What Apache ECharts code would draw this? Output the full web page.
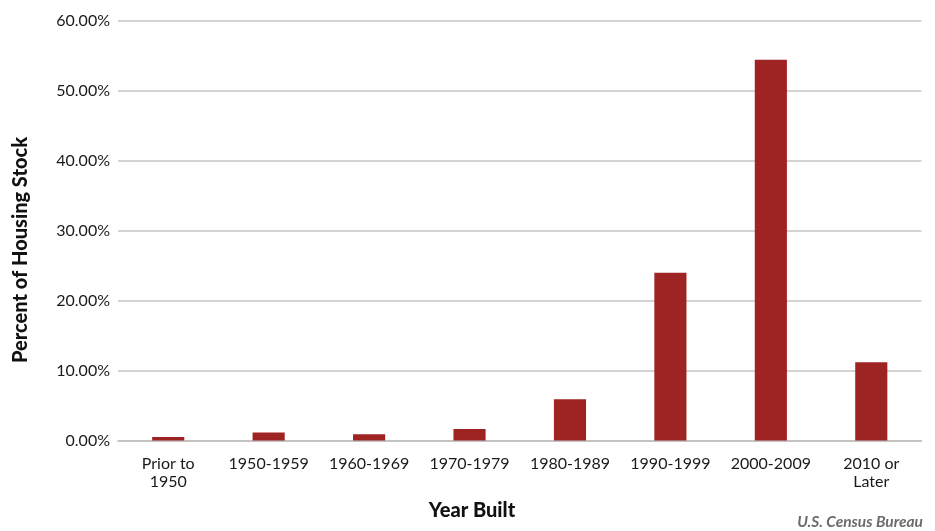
<!DOCTYPE html>
<html>
<head>
<meta charset="utf-8">
<script src="https://cdn.jsdelivr.net/npm/echarts@6/dist/echarts.min.js"></script>
<style>
  html, body { margin: 0; padding: 0; background: #fff; }
  #chart { width: 935px; height: 531px; }
</style>
</head>
<body>
<div id="chart"></div>
<script>
// Share of housing stock by decade of construction
const yearBuilt = ['Prior to\n1950', '1950-1959', '1960-1969', '1970-1979', '1980-1989', '1990-1999', '2000-2009', '2010 or\nLater'];
const sharePct = [0.5, 1.13, 0.89, 1.65, 5.89, 23.97, 54.4, 11.17];
const yTicks = { min: 0, max: 60, step: 10 };

const FONT = 'Lato, "Noto Sans", sans-serif';
const chart = echarts.init(document.getElementById('chart'), null, { renderer: 'canvas' });

chart.setOption({
  animation: false,
  backgroundColor: '#ffffff',
  grid: { left: 118, right: 13.5, top: 20.5, bottom: 90.5, containLabel: false },
  xAxis: {
    type: 'category',
    data: yearBuilt,
    axisLine: { show: true, lineStyle: { color: '#bdbdbd', width: 1.5 } },
    axisTick: { show: false },
    axisLabel: { color: '#1a1a1a', fontFamily: FONT, fontSize: 16, lineHeight: 18, margin: 14, interval: 0 }
  },
  yAxis: {
    type: 'value',
    min: yTicks.min,
    max: yTicks.max,
    interval: yTicks.step,
    axisLine: { show: false },
    axisTick: { show: false },
    splitLine: { lineStyle: { color: '#c6c6c6', width: 1.5 } },
    axisLabel: {
      color: '#1a1a1a', fontFamily: FONT, fontSize: 16, margin: 8,
      formatter: v => v.toFixed(2) + '%'
    }
  },
  series: [{
    type: 'bar',
    data: sharePct,
    barWidth: '32%',
    itemStyle: { color: '#9e2423' }
  }],
  graphic: [
    {
      type: 'text',
      x: 21, y: 250, rotation: Math.PI / 2,
      style: {
        text: 'Percent of Housing Stock', fill: '#111', fontFamily: FONT,
        fontWeight: 900, fontSize: 20, align: 'center', verticalAlign: 'middle'
      }
    },
    {
      type: 'text',
      x: 472, y: 511,
      style: {
        text: 'Year Built', fill: '#111', fontFamily: FONT,
        fontWeight: 900, fontSize: 20, align: 'center', verticalAlign: 'middle'
      }
    },
    {
      type: 'text',
      x: 923, y: 522,
      style: {
        text: 'U.S. Census Bureau', fill: '#6b6b6b', fontFamily: FONT,
        fontWeight: 'bold', fontStyle: 'italic', fontSize: 15.5, align: 'right', verticalAlign: 'middle'
      }
    }
  ]
});
</script>
</body>
</html>
